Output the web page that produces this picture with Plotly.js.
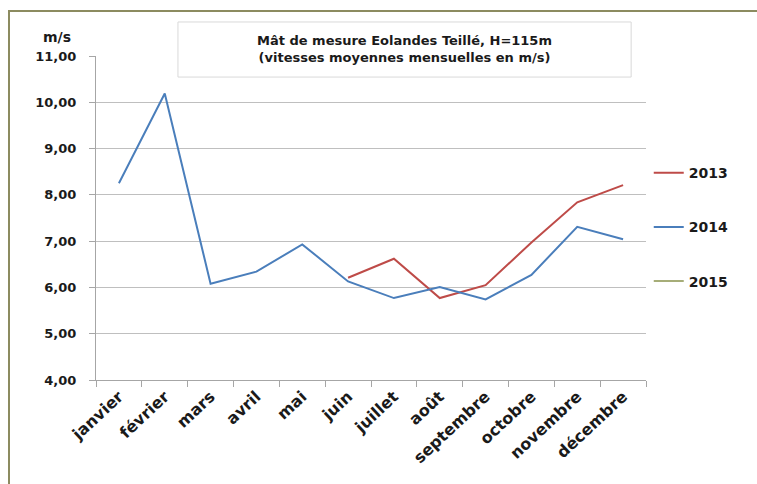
<!DOCTYPE html>
<html>
<head>
<meta charset="utf-8">
<script src="https://cdn.plot.ly/plotly-3.0.1.min.js"></script>
<style>
html,body{margin:0;padding:0;background:#fff;}
#wrap{position:relative;width:757px;height:484px;overflow:hidden;}
#chart{position:absolute;left:0;top:0;width:757px;height:484px;}
#frame{position:absolute;left:8px;top:10px;width:800px;height:500px;border-top:2px solid #8c8b60;border-left:2px solid #8c8b60;pointer-events:none;}
</style>
</head>
<body>
<div id="wrap"><div id="chart"></div><div id="frame"></div></div>
<script>
const months = ["janvier","février","mars","avril","mai","juin","juillet","août","septembre","octobre","novembre","décembre"];
const v2013 = [null,null,null,null,null,6.21,6.62,5.77,6.05,6.97,7.84,8.21];
const v2014 = [8.25,10.19,6.08,6.34,6.93,6.13,5.77,6.01,5.74,6.27,7.31,7.04];
const v2015 = [null,null,null,null,null,null,null,null,null,null,null,null];
const yTicks = [4,5,6,7,8,9,10,11];
const titleLines = ["Mât de mesure Eolandes Teillé, H=115m","(vitesses moyennes mensuelles en m/s)"];

const F = "DejaVu Sans, Verdana, sans-serif";
const traces = [
  {x: months, y: v2013, name: "2013", type: "scatter", mode: "lines", line: {color: "#be4b48", width: 2}, legendgroup: "a", connectgaps: false},
  {x: months, y: v2014, name: "2014", type: "scatter", mode: "lines", line: {color: "#4a7ebb", width: 2}, legendgroup: "b"},
  {x: months, y: v2015, name: "2015", type: "scatter", mode: "lines", line: {color: "#a6ad78", width: 2}, legendgroup: "c"}
];
const layout = {
  width: 757, height: 484,
  margin: {l: 96, r: 111, t: 56, b: 104},
  paper_bgcolor: "#fff", plot_bgcolor: "#fff",
  separators: ", ",
  showlegend: true,
  legend: {x: 1.005, xanchor: "left", y: 0.688, yanchor: "top", tracegroupgap: 33, itemwidth: 30,
           font: {family: F, size: 14, color: "#1a1a1a", weight: "bold"}, bgcolor: "rgba(0,0,0,0)"},
  xaxis: {type: "category", range: [-0.5, 11.5], showgrid: false, showline: true, linecolor: "#a6a6a6", linewidth: 1,
          ticks: "outside", tickson: "boundaries", ticklen: 6, tickcolor: "#a6a6a6", tickangle: -43,
          tickfont: {family: F, size: 16, color: "#1a1a1a", weight: "bold"}, zeroline: false, fixedrange: true},
  yaxis: {range: [4, 11], tickvals: yTicks, tickformat: ".2f", showgrid: true, gridcolor: "#bfbfbf", gridwidth: 1,
          showline: true, linecolor: "#a6a6a6", linewidth: 1, ticks: "outside", ticklen: 6, tickcolor: "#a6a6a6",
          ticklabelstandoff: 10, tickfont: {family: F, size: 13, color: "#1a1a1a", weight: "bold"}, zeroline: false, fixedrange: true},
  shapes: [
    {type: "rect", xref: "paper", yref: "paper", x0: 0.149, x1: 0.973, y0: 0.935, y1: 1.105, layer: "above",
     fillcolor: "#ffffff", line: {color: "#d9d9d9", width: 1}}
  ],
  annotations: [
    {xref: "paper", yref: "paper", x: 0.561, y: 1.022, xanchor: "center", yanchor: "middle", showarrow: false,
     text: titleLines.join("<br>"), align: "center", font: {family: F, size: 13, color: "#1a1a1a", weight: "bold"}},
    {xref: "paper", yref: "paper", x: -0.07, y: 1.06, xanchor: "center", yanchor: "middle", showarrow: false,
     text: "m/s", font: {family: F, size: 14, color: "#1a1a1a", weight: "bold"}}
  ]
};
Plotly.newPlot("chart", traces, layout, {staticPlot: true, displayModeBar: false});
</script>
</body>
</html>
